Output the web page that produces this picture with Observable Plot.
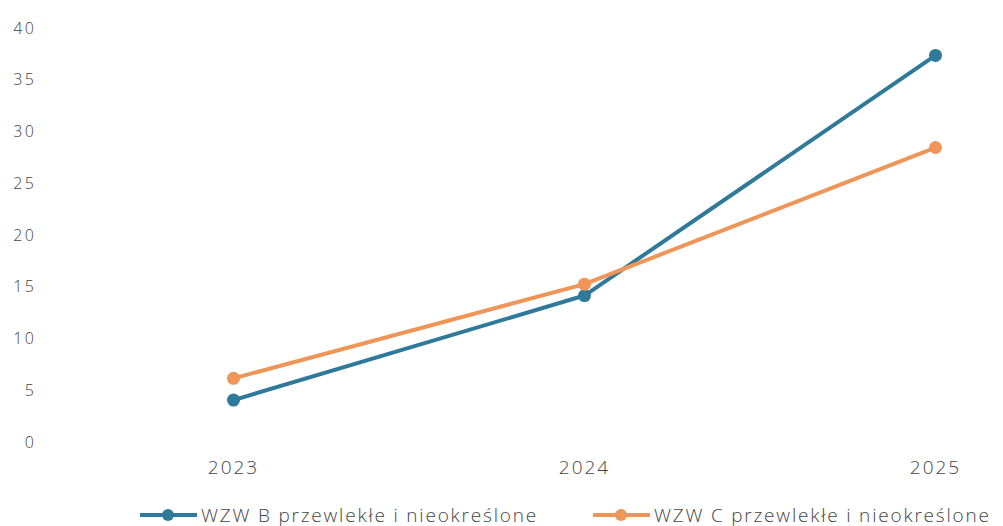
<!DOCTYPE html>
<html>
<head>
<meta charset="utf-8">
<script src="https://cdn.jsdelivr.net/npm/d3@7"></script>
<script src="https://cdn.jsdelivr.net/npm/@observablehq/plot@0.6"></script>
<style>
  html, body { margin: 0; padding: 0; background: #fff; }
  body { width: 1003px; height: 526px; overflow: hidden; font-family: "Open Sans", sans-serif; }
  #legend { display: flex; justify-content: flex-start; padding-left: 140px; gap: 55px; height: 36px; align-items: center; margin-top: 7px;
    font-family: "Open Sans", sans-serif; font-weight: 300; font-size: 19px; color: #444; letter-spacing: 1.8px; white-space: nowrap; }
  .item { display: flex; align-items: center; }
  .item svg { margin-right: 4px; }
  g[aria-label="y-axis tick label"] text { letter-spacing: 2.5px; }
  g[aria-label="x-axis tick label"] text { letter-spacing: 2px; }
</style>
</head>
<body>
<div id="chart"></div>
<div id="legend"></div>
<script>
const years = ["2023", "2024", "2025"];
const seriesNames = ["WZW B przewlekłe i nieokreślone", "WZW C przewlekłe i nieokreślone"];
const wzwB = [4.1, 14.2, 37.4];
const wzwC = [6.2, 15.3, 28.5];
const colors = ["#2f799b", "#ef9558"];
const yTicks = [0, 5, 10, 15, 20, 25, 30, 35, 40];

const data = [];
years.forEach((y, i) => {
  data.push({year: y, value: wzwB[i], series: seriesNames[0]});
  data.push({year: y, value: wzwC[i], series: seriesNames[1]});
});

const chart = Plot.plot({
  width: 1003,
  height: 490,
  marginLeft: 38,
  marginRight: 20,
  marginTop: 28,
  marginBottom: 48,
  style: {fontFamily: "Open Sans, sans-serif", fontWeight: 300, color: "#444", background: "#fff"},
  x: {type: "point", domain: years, range: [232, 935], padding: 0, label: null},
  y: {domain: [0, 40], label: null},
  color: {domain: seriesNames, range: colors},
  marks: [
    Plot.axisY({ticks: yTicks, tickSize: 0, tickPadding: 2, fontSize: 16, label: null, fill: "#444"}),
    Plot.axisX({tickSize: 0, tickPadding: 18, fontSize: 19, label: null, fill: "#444"}),
    Plot.line(data, {x: "year", y: "value", stroke: "series", strokeWidth: 4}),
    Plot.dot(data, {x: "year", y: "value", fill: "series", r: 6.5})
  ]
});
document.getElementById("chart").appendChild(chart);

const legend = document.getElementById("legend");
seriesNames.forEach((name, i) => {
  const item = document.createElement("div");
  item.className = "item";
  item.innerHTML = `<svg width="57" height="14"><line x1="0" y1="7" x2="57" y2="7" stroke="${colors[i]}" stroke-width="4"/><circle cx="28" cy="7" r="6" fill="${colors[i]}"/></svg><span>${name}</span>`;
  legend.appendChild(item);
});
</script>
</body>
</html>
